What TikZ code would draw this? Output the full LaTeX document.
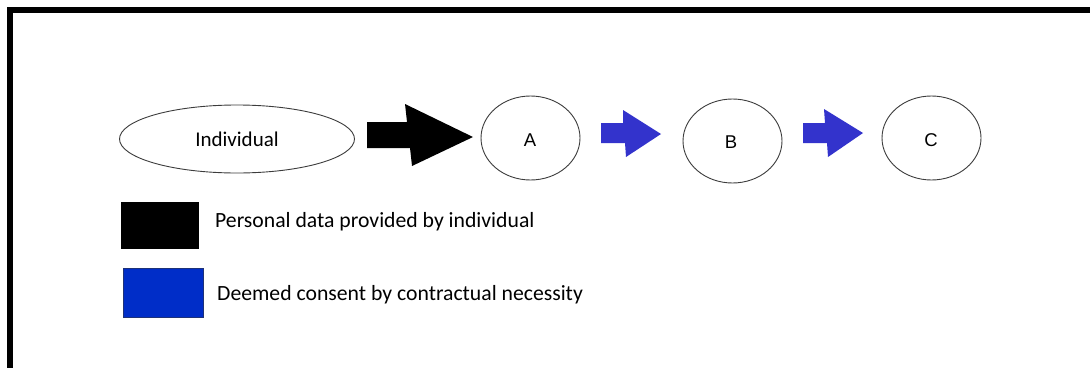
\documentclass[tikz,border=0pt]{standalone}
\usepackage{fontspec}
\setmainfont{Carlito}
\newfontfamily\arialf{Liberation Sans}
\usetikzlibrary{shapes.geometric}
\definecolor{arrowblue}{RGB}{51,51,204}
\definecolor{legendblue}{RGB}{0,45,200}
\definecolor{legendedge}{RGB}{30,50,120}
\definecolor{edgegray}{RGB}{60,60,60}
\tikzset{
  oval/.style={ellipse, draw=edgegray, line width=0.9pt, inner sep=0pt, fill=white},
  lbl/.style={font=\fontsize{21}{24}\selectfont, inner sep=0pt},
  letter/.style={font=\arialf\fontsize{18.5}{20}\selectfont, inner sep=0pt},
  legtext/.style={font=\fontsize{21.7}{24}\selectfont, inner sep=0pt, anchor=west},
}
\begin{document}
\begin{tikzpicture}[x=1pt,y=-1pt]
\useasboundingbox (0,0) rectangle (1090,367);
% frame
\draw[line width=6pt, line join=miter] (10,370) -- (10,9.5) -- (1095,9.5);
% nodes
\node[oval, minimum width=235pt, minimum height=68pt] (ind) at (237,139) {};
\node[lbl] at (237,139) {Individual};
\node[oval, minimum width=99pt, minimum height=84pt] (A) at (530.5,138) {};
\node[letter] at (530,140) {A};
\node[oval, minimum width=99pt, minimum height=84pt] (B) at (732.5,141) {};
\node[letter] at (731,142) {B};
\node[oval, minimum width=99pt, minimum height=84pt] (C) at (931.5,138) {};
\node[letter] at (931,140) {C};
% block arrows
\fill[black] (367,122) -- (407,122) -- (405,104) -- (473,137) -- (412,166) -- (410,148) -- (367,148) -- cycle;
\fill[arrowblue] (601,123) -- (623,123) -- (623,110) -- (661,134) -- (626,157) -- (625,143) -- (601,143) -- cycle;
\fill[arrowblue] (803,123) -- (825,123) -- (824,109) -- (863,133) -- (828,157) -- (827,143) -- (803,143) -- cycle;
% legend
\fill[black] (121,202) rectangle (199,249);
\draw[fill=legendblue, draw=legendedge, line width=0.8pt] (123,268) rectangle (203,317);
\node[legtext] (l1) at (215,222) {Personal data provided by individual};
\node[legtext] (l2) at (217,295) {Deemed consent by contractual necessity};
\end{tikzpicture}
\end{document}
